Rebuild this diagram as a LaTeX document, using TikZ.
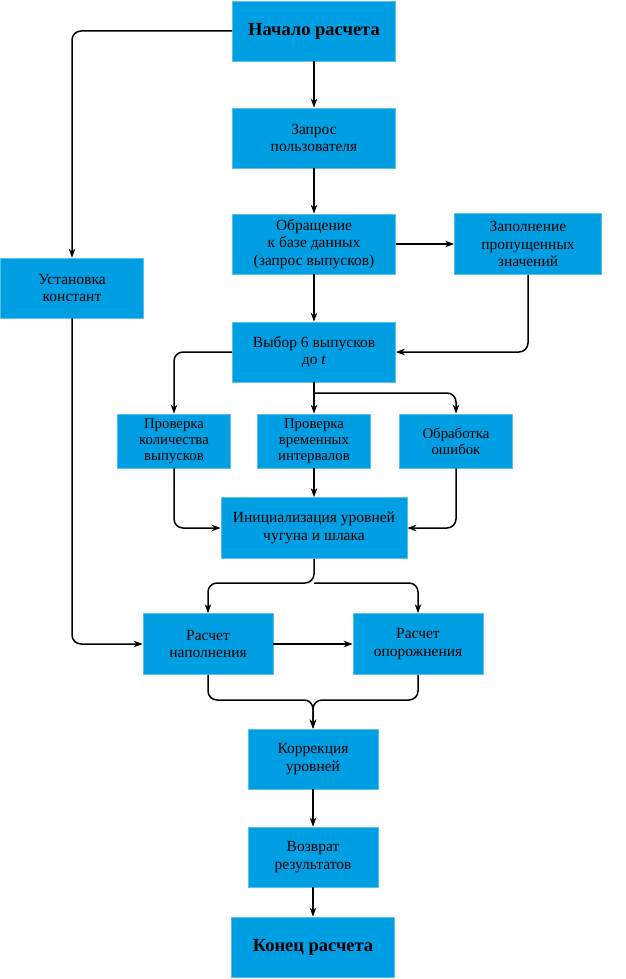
\documentclass[tikz,border=0pt]{standalone}
\usepackage{fontspec}
\setmainfont{Liberation Serif}
\usetikzlibrary{arrows.meta}
\definecolor{boxblue}{RGB}{0,158,226}

\begin{document}
\begin{tikzpicture}
    [
    x=1pt, y=-1pt
    , box/.style = {fill=boxblue,draw=boxblue!65!white,line width=0.7pt,align=center,inner sep=2pt,font=\fontsize{15.5}{17.5}\selectfont}
    , widebox/.style = {box,minimum width=163pt,minimum height=60pt}
    , termbox/.style = {widebox,font=\fontsize{18.5}{20}\selectfont\bfseries}
    , checkbox/.style = {box,minimum width=113pt,minimum height=54pt,font=\fontsize{14.8}{16.2}\selectfont}
    , calcbox/.style = {box,minimum width=130pt,minimum height=61pt}
    , flow/.style = {-{Stealth[length=9pt,width=6.5pt]},line width=1.5pt,rounded corners=9pt}
    ]
\useasboundingbox (0,0) rectangle (625,979);

\node[termbox] (start) at (314,31) {Начало расчета};
\node[widebox] (request) at (314,138) {Запрос\\пользователя};
\node[widebox] (dbquery) at (314,244) {Обращение\\к базе данных\\(запрос выпусков)};
\node[box,minimum width=147pt,minimum height=61pt] (fillgaps) at (528,244) {Заполнение\\пропущенных\\значений};
\node[box,minimum width=143pt,minimum height=60pt] (consts) at (72,288) {Установка\\констант};
\node[widebox] (select) at (314,352) {Выбор 6 выпусков\\до \textit{t}};

\node[checkbox] (chkcount) at (174,441) {Проверка\\количества\\выпусков};
\node[checkbox] (chktime) at (314,441) {Проверка\\временных\\интервалов};
\node[checkbox] (errors) at (456,441) {Обработка\\ошибок};

\node[box,minimum width=186pt,minimum height=61pt] (init) at (314,528) {Инициализация уровней\\чугуна и шлака};

\node[calcbox] (filling) at (208,644) {Расчет\\наполнения};
\node[calcbox] (emptying) at (418,644) {Расчет\\опорожнения};

\node[box,minimum width=130pt,minimum height=60pt] (correct) at (313,759) {Коррекция\\уровней};
\node[box,minimum width=130pt,minimum height=60pt] (result) at (313,857) {Возврат\\результатов};
\node[termbox] (finish) at (313,947) {Конец расчета};

\coordinate (split) at (314,393);
\coordinate (fork) at (314,583);
\coordinate (merge) at (313,700);

\draw[flow] (start.west) -| (consts.north);
\draw[flow] (start) -- (request);
\draw[flow] (request) -- (dbquery);
\draw[flow] (dbquery) -- (fillgaps);
\draw[flow] (dbquery) -- (select);
\draw[flow] (fillgaps.south) |- (select.east);

\draw[flow] (select.west) -| (chkcount.north);
\draw[flow] (select) -- (chktime);
\draw[flow] (split) -| (errors.north);

\draw[flow] (chkcount.south) |- (init.west);
\draw[flow] (chktime) -- (init);
\draw[flow] (errors.south) |- (init.east);

\draw[flow] (init.south) -- (fork) -| (filling.north);
\draw[flow] (fork) -| (emptying.north);
\draw[flow] (consts.south) |- (filling.west);
\draw[flow] (filling) -- (emptying);

\draw[flow] (filling.south) |- (merge) -- (correct.north);
\draw[flow] (emptying.south) |- (merge) -- (correct.north);
\draw[flow] (correct) -- (result);
\draw[flow] (result) -- (finish);
\end{tikzpicture}
\end{document}
